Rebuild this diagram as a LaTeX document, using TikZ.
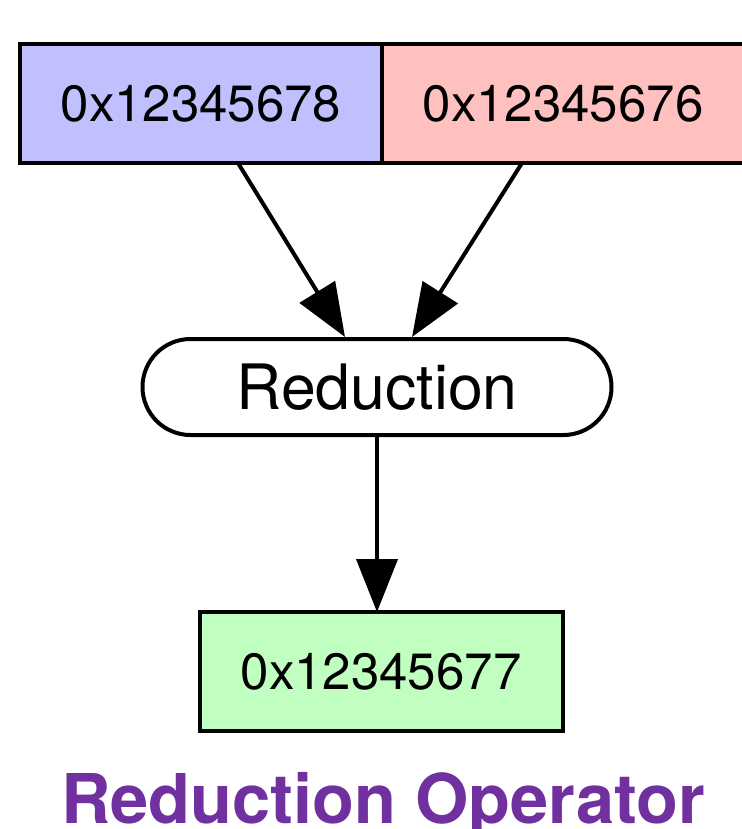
\documentclass[tikz,border=0pt]{standalone}
\usepackage{fontspec}
\setmainfont{TeX Gyre Heros}
\usetikzlibrary{positioning,arrows.meta,shapes.misc}

\definecolor{regblue}{RGB}{192,192,255}
\definecolor{regred}{RGB}{255,192,192}
\definecolor{reggreen}{RGB}{192,255,192}
\definecolor{titlepurple}{RGB}{112,48,160}

\begin{document}
\begin{tikzpicture}[x=0.5pt, y=-0.5pt,
  word/.style={draw, line width=2pt, outer sep=0pt, inner sep=0pt,
    minimum width=181pt, minimum height=59.5pt,
    font=\fontsize{25.5}{30}\selectfont},
  flow/.style={line width=2pt, -{Triangle[length=26.5pt,width=20.5pt]}}]
\useasboundingbox (0,0) rectangle (742,829);

% the two inputs sit side by side, sharing one border
\node [word, fill=regblue] (lhs) at (201,103.5) {0x12345678};
\node [word, fill=regred, right=0pt of lhs] (rhs) {0x12345676};
\node [draw, line width=2pt, rounded rectangle, inner sep=0pt,
  minimum width=234.5pt, minimum height=48pt,
  font=\fontsize{31.3}{36}\selectfont] (reduce) at (377,387) {Reduction};
\node [word, fill=reggreen, minimum width=181.5pt] (result) at (381,671.5) {0x12345677};
\node [anchor=base, text=titlepurple, font=\bfseries\fontsize{34.3}{40}\selectfont]
  (title) at (383,823) {Reduction Operator};

\draw[flow] (lhs.south) ++(37,0) -- ([xshift=-16pt]reduce.north);
\draw[flow] (rhs.south) ++(-41,0) -- ([xshift=17.5pt]reduce.north);
\draw[flow] (reduce.south) -- (reduce.south |- result.north);
\end{tikzpicture}
\end{document}
